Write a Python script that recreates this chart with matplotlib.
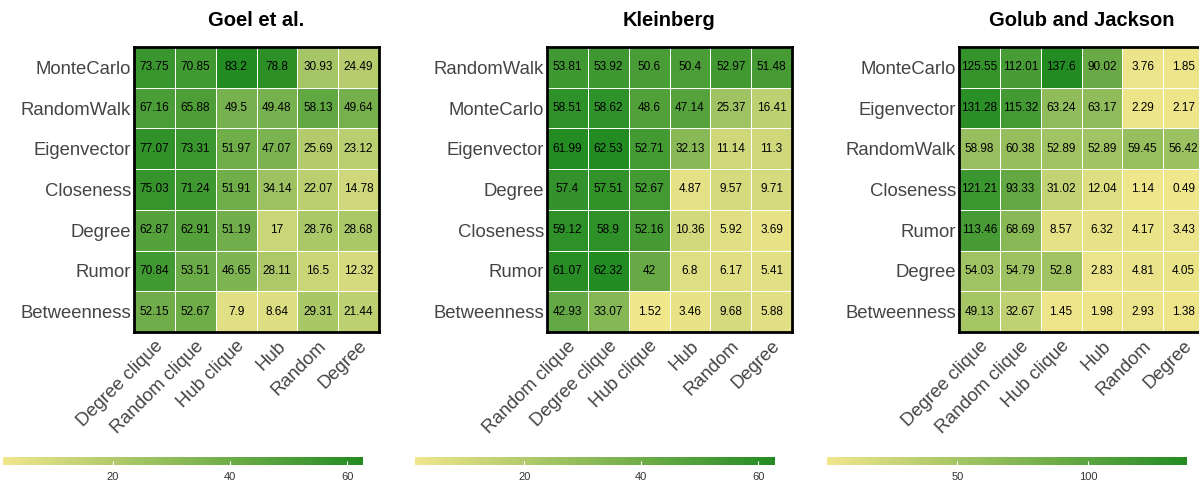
import numpy as np
import matplotlib
matplotlib.use('Agg')
import matplotlib.pyplot as plt
from matplotlib.colors import LinearSegmentedColormap, Normalize
from matplotlib.cm import ScalarMappable

plt.rcParams['font.family'] = ['Liberation Sans', 'DejaVu Sans']

# ---- data (rows top to bottom, columns left to right) ----
goel_rows = ['MonteCarlo', 'RandomWalk', 'Eigenvector', 'Closeness', 'Degree', 'Rumor', 'Betweenness']
goel_cols = ['Degree clique', 'Random clique', 'Hub clique', 'Hub', 'Random', 'Degree']
goel_vals = [
    [73.75, 70.85, 83.2, 78.8, 30.93, 24.49],
    [67.16, 65.88, 49.5, 49.48, 58.13, 49.64],
    [77.07, 73.31, 51.97, 47.07, 25.69, 23.12],
    [75.03, 71.24, 51.91, 34.14, 22.07, 14.78],
    [62.87, 62.91, 51.19, 17, 28.76, 28.68],
    [70.84, 53.51, 46.65, 28.11, 16.5, 12.32],
    [52.15, 52.67, 7.9, 8.64, 29.31, 21.44],
]

klein_rows = ['RandomWalk', 'MonteCarlo', 'Eigenvector', 'Degree', 'Closeness', 'Rumor', 'Betweenness']
klein_cols = ['Random clique', 'Degree clique', 'Hub clique', 'Hub', 'Random', 'Degree']
klein_vals = [
    [53.81, 53.92, 50.6, 50.4, 52.97, 51.48],
    [58.51, 58.62, 48.6, 47.14, 25.37, 16.41],
    [61.99, 62.53, 52.71, 32.13, 11.14, 11.3],
    [57.4, 57.51, 52.67, 4.87, 9.57, 9.71],
    [59.12, 58.9, 52.16, 10.36, 5.92, 3.69],
    [61.07, 62.32, 42, 6.8, 6.17, 5.41],
    [42.93, 33.07, 1.52, 3.46, 9.68, 5.88],
]

golub_rows = ['MonteCarlo', 'Eigenvector', 'RandomWalk', 'Closeness', 'Rumor', 'Degree', 'Betweenness']
golub_cols = ['Degree clique', 'Random clique', 'Hub clique', 'Hub', 'Random', 'Degree']
golub_vals = [
    [125.55, 112.01, 137.6, 90.02, 3.76, 1.85],
    [131.28, 115.32, 63.24, 63.17, 2.29, 2.17],
    [58.98, 60.38, 52.89, 52.89, 59.45, 56.42],
    [121.21, 93.33, 31.02, 12.04, 1.14, 0.49],
    [113.46, 68.69, 8.57, 6.32, 4.17, 3.43],
    [54.03, 54.79, 52.8, 2.83, 4.81, 4.05],
    [49.13, 32.67, 1.45, 1.98, 2.93, 1.38],
]

titles = ['Goel et al.', 'Kleinberg', 'Golub and Jackson']

# ---- layout in pixels ----
W, H = 1199, 487
fig = plt.figure(figsize=(W / 100, H / 100), dpi=100)
cmap = LinearSegmentedColormap.from_list('kg', ['#F0E68C', '#228B22'])


def px_axes(x0, y0, w, h):
    return fig.add_axes([x0 / W, 1 - (y0 + h) / H, w / W, h / H])


panels = [
    (goel_rows, goel_cols, goel_vals, 134, (1.25, 83.2), (1.25, 62.7), [20, 40, 60], 3),
    (klein_rows, klein_cols, klein_vals, 547, (1.3, 62.53), (1.3, 62.85), [20, 40, 60], 415),
    (golub_rows, golub_cols, golub_vals, 959, (0.1, 137.6), (0.1, 137.9), [50, 100], 827),
]

for k, (rows, cols, vals, x0, cell_rng, cb_rng, cb_ticks, cbx) in enumerate(panels):
    data = np.array(vals)
    ax = px_axes(x0, 47, 245, 285)
    norm = Normalize(*cell_rng)
    ax.pcolormesh(data, cmap=cmap, norm=norm, edgecolors='white', linewidth=0.7)
    ax.set_xlim(0, len(cols))
    ax.set_ylim(len(rows), 0)
    for i in range(len(rows)):
        for j in range(len(cols)):
            ax.text(j + 0.5, i + 0.5, f'{data[i, j]:g}', ha='center', va='center',
                    fontsize=8.5, color='black')
    ax.set_xticks(np.arange(len(cols)) + 0.5)
    ax.set_yticks(np.arange(len(rows)) + 0.5)
    ax.set_xticklabels(cols, rotation=45, ha='right', rotation_mode='anchor',
                       fontsize=13.3, color='#444444')
    ax.set_yticklabels(rows, fontsize=13.3, color='#444444')
    ax.tick_params(length=0, pad=2)
    ax.tick_params(axis='x', pad=4)
    for s in ax.spines.values():
        s.set_linewidth(2)
        s.set_color('black')
    ax.set_title(titles[k], fontsize=14.5, fontweight='bold', pad=15)

    cax = px_axes(cbx, 457, 360, 8)
    sm = ScalarMappable(norm=Normalize(*cb_rng), cmap=cmap)
    cb = fig.colorbar(sm, cax=cax, orientation='horizontal')
    cb.outline.set_visible(False)
    cb.set_ticks(cb_ticks)
    cax.tick_params(direction='in', color='white', length=3, width=0.8,
                    labelsize=8, labelcolor='#333333', pad=5)

fig.savefig('out.png', dpi=100)
